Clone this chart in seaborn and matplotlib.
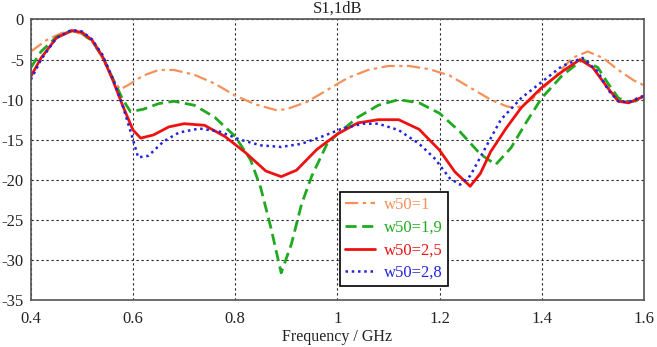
import numpy as np
import pandas as pd
import seaborn as sns
import matplotlib
matplotlib.use("Agg")
import matplotlib.pyplot as plt

x_w1 = [0.40, 0.43, 0.46, 0.48, 0.50, 0.52, 0.54, 0.56, 0.575, 0.59, 0.62, 0.65, 0.68, 0.72, 0.76, 0.80, 0.84, 0.88, 0.90, 0.94, 0.98, 1.02, 1.06, 1.10, 1.14, 1.18, 1.22, 1.26, 1.30, 1.33, 1.35, 1.38, 1.42, 1.46, 1.49, 1.52, 1.55, 1.58, 1.60]
y_w1 = [-4.0, -2.6, -1.7, -1.5, -1.8, -2.8, -4.8, -7.5, -8.7, -8.2, -7.0, -6.3, -6.3, -6.9, -8.0, -9.5, -10.6, -11.3, -11.2, -10.3, -8.8, -7.3, -6.3, -5.8, -5.8, -6.2, -7.0, -8.5, -10.0, -10.8, -11.1, -10.0, -7.5, -4.8, -4.0, -4.8, -6.3, -7.6, -8.2]

x_w19 = [0.40, 0.42, 0.45, 0.48, 0.50, 0.52, 0.54, 0.56, 0.58, 0.595, 0.62, 0.65, 0.68, 0.72, 0.76, 0.80, 0.83, 0.85, 0.87, 0.89, 0.91, 0.93, 0.95, 0.98, 1.00, 1.04, 1.08, 1.12, 1.16, 1.20, 1.24, 1.28, 1.31, 1.34, 1.37, 1.40, 1.44, 1.48, 1.51, 1.53, 1.55, 1.57, 1.60]
y_w19 = [-6.0, -4.0, -2.2, -1.4, -1.7, -2.7, -4.6, -7.3, -10.0, -11.5, -11.2, -10.5, -10.2, -10.7, -12.2, -14.6, -17.5, -21.0, -26.0, -31.6, -28.0, -23.0, -19.5, -15.5, -14.3, -12.2, -10.7, -10.0, -10.4, -11.7, -14.0, -16.8, -18.1, -16.0, -12.8, -9.8, -7.0, -5.0, -6.0, -8.0, -9.8, -10.3, -10.0]

x_w25 = [0.40, 0.42, 0.45, 0.48, 0.50, 0.52, 0.54, 0.56, 0.58, 0.60, 0.615, 0.64, 0.67, 0.70, 0.74, 0.78, 0.82, 0.86, 0.89, 0.92, 0.96, 1.00, 1.04, 1.08, 1.12, 1.16, 1.20, 1.23, 1.26, 1.28, 1.30, 1.33, 1.36, 1.40, 1.44, 1.475, 1.50, 1.53, 1.55, 1.57, 1.60]
y_w25 = [-7.1, -4.8, -2.3, -1.4, -1.6, -2.6, -4.6, -7.5, -10.8, -13.8, -14.8, -14.4, -13.4, -13.0, -13.2, -14.6, -16.6, -18.9, -19.6, -18.8, -16.2, -14.3, -12.9, -12.5, -12.5, -13.7, -16.3, -19.0, -20.8, -19.2, -16.5, -13.6, -11.0, -8.5, -6.5, -5.0, -6.0, -8.6, -10.2, -10.4, -9.6]

x_w28 = [0.40, 0.42, 0.45, 0.48, 0.50, 0.52, 0.54, 0.56, 0.58, 0.60, 0.61, 0.63, 0.66, 0.69, 0.73, 0.77, 0.81, 0.85, 0.89, 0.93, 0.97, 1.01, 1.05, 1.08, 1.12, 1.16, 1.19, 1.22, 1.24, 1.26, 1.29, 1.32, 1.36, 1.40, 1.44, 1.48, 1.51, 1.53, 1.55, 1.57, 1.60]
y_w28 = [-7.5, -5.0, -2.3, -1.3, -1.5, -2.5, -4.4, -7.3, -10.8, -15.0, -17.2, -17.0, -15.2, -14.1, -13.6, -14.0, -15.0, -15.7, -15.9, -15.5, -14.6, -13.6, -13.0, -13.0, -13.8, -15.5, -17.3, -19.8, -20.6, -19.5, -16.0, -12.5, -9.8, -7.8, -5.8, -4.8, -6.5, -8.8, -10.2, -10.3, -9.5]

labels = ["w50=1", "w50=1,9", "w50=2,5", "w50=2,8"]
colors = ["#F4915A", "#1FAA1F", "#EE1111", "#2222DD"]
styles = [(0, (6, 2, 1.5, 2)), (0, (4, 2)), "-", (0, (1, 1.5))]
widths = [1.6, 2.0, 2.0, 1.8]

xticks = [0.4, 0.6, 0.8, 1.0, 1.2, 1.4, 1.6]
xticklabels = ["0.4", "0.6", "0.8", "1", "1.2", "1.4", "1.6"]
yticks = [0, -5, -10, -15, -20, -25, -30, -35]

sns.set_style("white")
plt.rcParams["font.family"] = ["Liberation Serif", "DejaVu Serif"]

fig = plt.figure(figsize=(6.57, 3.47), dpi=100)
ax = fig.add_axes([0.047, 0.135, 0.933, 0.809])

series = [(x_w1, y_w1), (x_w19, y_w19), (x_w25, y_w25), (x_w28, y_w28)]
for (xs, ys), lab, c, ls, lw in zip(series, labels, colors, styles, widths):
    df = pd.DataFrame({"f": xs, "s": ys})
    sns.lineplot(data=df, x="f", y="s", ax=ax, color=c, linestyle=ls, linewidth=lw, label=lab)

ax.set_xlim(0.4, 1.6)
ax.set_ylim(-35, 0)
ax.set_xticks(xticks)
ax.set_xticklabels(xticklabels)
ax.set_yticks(yticks)
ax.set_yticklabels([str(v) for v in yticks])
ax.tick_params(axis="both", labelsize=12, length=3, width=0.8, direction="out", colors="#333333")
ax.tick_params(axis="x", pad=5)
ax.tick_params(axis="y", pad=2)
ax.tick_params(labelcolor="#222222")
ax.grid(True, color="#222222", linestyle=(0, (2, 2.5)), linewidth=0.8)
for sp in ax.spines.values():
    sp.set_color("#555555")
    sp.set_linewidth(1.2)
ax.set_xlabel("Frequency / GHz", fontsize=11.5, color="#222222", labelpad=1)
ax.set_ylabel("")
ax.set_title("S1,1dB", fontsize=12, color="#222222", pad=5)

leg = ax.legend(loc="upper left", bbox_to_anchor=(0.505, 0.385), borderaxespad=0, fontsize=12,
                frameon=True, fancybox=False, edgecolor="black", framealpha=1,
                handlelength=1.8, borderpad=0.3, labelspacing=0.4, handletextpad=0.5)
leg.get_frame().set_linewidth(1.2)
for t, c in zip(leg.get_texts(), colors):
    t.set_color(c)

fig.savefig("out.png", dpi=100)
